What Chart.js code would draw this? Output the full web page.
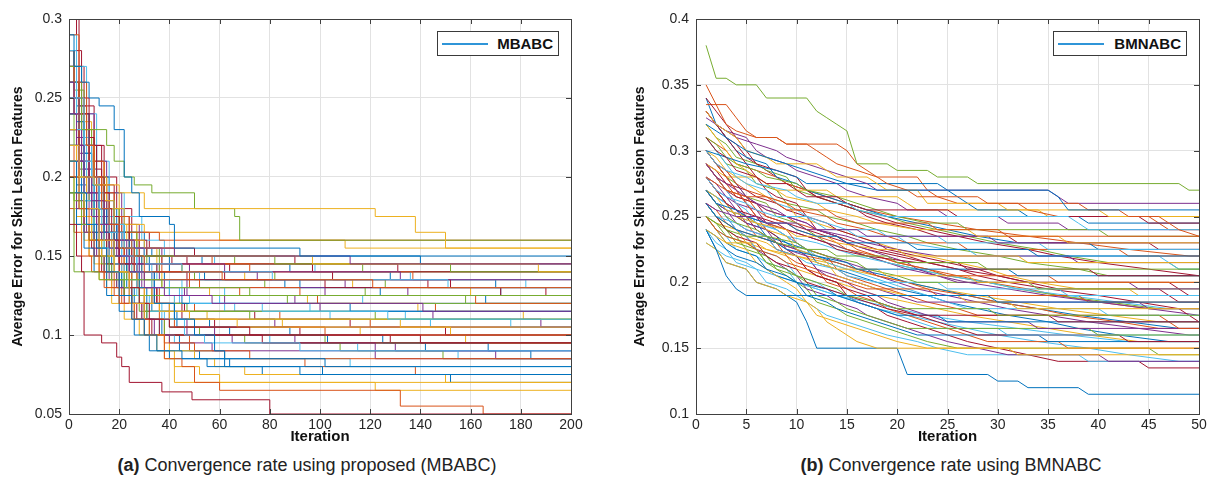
<!DOCTYPE html>
<html>
<head>
<meta charset="utf-8">
<script src="https://cdn.jsdelivr.net/npm/chart.js@4.4.0/dist/chart.umd.min.js"></script>
<style>
html,body{margin:0;padding:0;background:#fff;}
body{width:1212px;height:501px;position:relative;overflow:hidden;font-family:"Liberation Sans",Arial,sans-serif;}
.wrap{position:absolute;top:0;height:450px;}
#wa{left:0;width:606px;}
#wb{left:620px;width:592px;}
.legend{position:absolute;top:31px;height:25px;border:1px solid #3a3a3a;background:#fff;box-sizing:border-box;font-weight:bold;font-size:15px;color:#111;z-index:5;}
.legend .ln{position:absolute;left:4px;top:11px;width:46px;height:2px;background:#2f95d8;}
.legend .tx{position:absolute;right:5px;top:3px;}
.cap{position:absolute;top:455px;font-size:18px;color:#222;text-align:center;white-space:nowrap;}
</style>
</head>
<body>
<div class="wrap" id="wa"><canvas id="ca" width="606" height="450"></canvas></div>
<div class="wrap" id="wb"><canvas id="cb" width="592" height="450"></canvas></div>
<div class="legend" style="left:437px;width:122px;"><span class="ln"></span><span class="tx" id="lga"></span></div>
<div class="legend" style="left:1053px;width:134px;"><span class="ln"></span><span class="tx" id="lgb"></span></div>
<div class="cap" style="left:0;width:614px;"><b>(a)</b> Convergence rate using proposed (MBABC)</div>
<div class="cap" style="left:690px;width:522px;"><b>(b)</b> Convergence rate using BMNABC</div>
<script>
// MATLAB default line colours, cycled over the runs
const palette=['#0072BD','#D95319','#EDB120','#7E2F8E','#77AC30','#4DBEEE','#A2142F'];

// (a) MBABC: each run = [iteration, new value, ...] (value holds until next change)
const mbabcXTicks=[0,20,40,60,80,100,120,140,160,180,200];
const mbabcXLabels=['0','20','40','60','80','100','120','140','160','180','200'];
const mbabcYTicks=[0.05,0.1,0.15,0.2,0.25,0.3];
const mbabcYLabels=['0.05','0.1','0.15','0.2','0.25','0.3'];
const mbabcRuns=[
[0,.29,2,.27,5,.26,8,.25,12,.245,18,.23,22,.2,25,.19,28,.175,40,.17,42,.155,92,.15,200,.15],
[0,.29,4,.26,7,.22,10,.2,13,.18,16,.17,20,.155,26,.15,30,.14,61,.135,121,.13,200,.13],
[0,.22,4,.2,10,.195,20,.19,30,.18,122,.175,138,.165,150,.155,200,.155],
[0,.24,3,.22,6,.2,9,.185,14,.17,20,.16,26,.155,42,.15,112,.145,200,.145],
[0,.27,5,.23,15,.22,18,.21,22,.2,26,.195,33,.19,50,.18,66,.175,68,.16,200,.16],
[0,.25,3,.23,6,.21,9,.195,12,.18,16,.17,22,.155,30,.145,45,.14,81,.135,151,.13,200,.13],
[0,.17,3,.15,5,.14,6,.1,13,.095,19,.086,21,.08,24,.07,37,.064,49,.059,80,.05,200,.05],
[0,.21,3,.19,7,.17,11,.155,15,.14,20,.125,25,.11,30,.1,35,.09,45,.085,62,.08,101,.075,200,.075],
[0,.2,4,.18,8,.16,12,.14,18,.125,25,.11,30,.1,38,.085,45,.08,50,.07,60,.065,132,.055,165,.05,200,.05],
[0,.23,3,.2,7,.18,12,.16,18,.14,24,.12,30,.1,38,.085,42,.07,200,.07],
[0,.26,2,.24,5,.21,8,.19,11,.17,15,.16,19,.15,24,.14,30,.13,38,.125,57,.12,141,.115,200,.115],
[0,.19,2,.14,12,.135,37,.13,72,.125,200,.125],
[0,.28,3,.25,6,.22,9,.2,12,.18,16,.165,21,.15,27,.14,33,.13,40,.125,48,.12,77,.115,127,.11,200,.11],
[0,.25,4,.22,8,.2,12,.18,16,.16,20,.145,24,.13,28,.12,32,.11,40,.105,72,.1,200,.1],
[0,.24,3,.22,6,.2,10,.18,14,.165,18,.15,23,.14,28,.13,34,.12,42,.11,50,.1,58,.09,62,.085,102,.08,200,.08],
[0,.27,2,.25,5,.22,8,.2,11,.18,14,.17,18,.16,22,.15,26,.14,30,.135,52,.13,92,.125,162,.12,200,.12],
[0,.21,3,.19,6,.175,9,.16,13,.15,18,.14,24,.13,30,.12,36,.115,48,.11,67,.105,152,.1,200,.1],
[0,.23,3,.21,6,.19,9,.175,12,.165,16,.155,20,.15,26,.145,62,.14,132,.135,200,.135],
[0,.2,2,.185,5,.17,8,.16,12,.15,16,.14,22,.13,28,.125,87,.12,200,.12],
[0,.22,3,.2,6,.185,10,.17,14,.155,18,.145,22,.135,27,.125,32,.115,38,.11,46,.1,54,.095,92,.09,200,.09],
[0,.3,4,.28,5,.24,8,.22,11,.2,14,.18,17,.165,21,.155,25,.145,35,.14,47,.135,102,.13,172,.125,200,.125],
[0,.26,3,.235,6,.215,9,.195,12,.18,15,.17,19,.16,24,.15,29,.14,34,.13,40,.125,45,.12,112,.115,200,.115],
[0,.18,2,.165,5,.15,9,.14,14,.13,20,.12,26,.11,32,.1,38,.095,50,.09,72,.085,200,.085],
[0,.26,3,.24,6,.22,10,.2,14,.185,18,.17,23,.16,30,.155,42,.15,97,.145,187,.14,200,.14],
[0,.2,3,.18,6,.165,10,.15,14,.14,19,.13,24,.12,29,.11,34,.1,40,.095,57,.09,122,.085,200,.085],
[0,.24,2,.22,5,.2,8,.185,12,.17,16,.16,20,.155,26,.15,82,.145,152,.14,200,.14],
[0,.25,4,.23,7,.2,10,.185,13,.17,17,.16,21,.15,25,.14,30,.135,40,.13,62,.125,117,.12,200,.12],
[0,.22,3,.2,7,.18,11,.16,15,.145,20,.13,25,.12,30,.11,36,.1,77,.095,200,.095],
[0,.19,3,.17,6,.155,10,.14,15,.125,20,.115,26,.1,32,.09,40,.085,55,.08,92,.075,200,.075],
[0,.28,2,.26,4,.24,7,.22,10,.2,13,.185,16,.17,20,.16,25,.15,57,.145,200,.145],
[0,.24,3,.22,6,.2,9,.18,13,.165,17,.15,22,.14,27,.13,33,.12,40,.11,132,.105,200,.105],
[0,.27,3,.24,6,.22,9,.2,12,.185,15,.17,19,.16,23,.15,28,.14,33,.135,38,.13,102,.125,200,.125],
[0,.21,3,.19,6,.175,9,.16,13,.145,17,.135,22,.125,28,.115,72,.11,200,.11],
[0,.23,3,.21,6,.19,9,.17,12,.155,16,.14,20,.13,25,.12,30,.11,36,.1,42,.095,50,.09,62,.085,112,.08,200,.08],
[0,.26,2,.24,5,.22,8,.2,11,.18,14,.165,18,.155,22,.145,27,.14,62,.135,152,.13,200,.13],
[0,.28,2,.26,5,.24,8,.22,11,.2,14,.185,18,.17,22,.16,26,.15,32,.14,38,.135,92,.13,172,.125,200,.125],
[0,.23,3,.21,6,.19,9,.175,12,.16,16,.15,20,.14,25,.13,30,.12,36,.11,42,.105,102,.1,200,.1],
[0,.2,2,.18,5,.165,8,.15,12,.135,17,.12,22,.11,28,.1,35,.09,42,.08,52,.075,60,.07,122,.065,200,.065],
[0,.25,3,.225,6,.205,9,.19,12,.175,16,.16,20,.15,24,.14,29,.13,34,.12,40,.115,48,.11,82,.105,200,.105],
[0,.22,3,.2,6,.185,10,.17,14,.155,18,.145,23,.135,28,.125,34,.12,47,.115,122,.11,200,.11],
[0,.27,2,.25,5,.225,8,.205,11,.19,14,.175,18,.165,22,.155,27,.145,33,.14,52,.135,200,.135],
[0,.21,3,.19,6,.17,9,.155,13,.14,17,.13,22,.12,27,.11,33,.1,140,.095,200,.095],
[0,.24,3,.22,6,.2,9,.18,12,.165,16,.155,24,.15,140,.145,200,.145],
[0,.25,3,.23,6,.21,9,.19,12,.175,15,.165,19,.155,24,.15,30,.145,72,.14,137,.135,200,.135],
[0,.19,3,.175,6,.16,10,.145,15,.13,20,.12,26,.11,32,.1,40,.09,50,.085,58,.08,70,.075,150,.07,200,.07],
[0,.23,3,.21,6,.19,9,.175,13,.16,17,.15,22,.14,27,.13,33,.12,40,.11,47,.1,65,.095,122,.09,200,.09],
[0,.2,3,.18,6,.165,10,.15,14,.14,19,.13,25,.12,31,.11,38,.1,102,.095,200,.095],
[0,.26,3,.24,6,.215,9,.195,12,.18,15,.165,19,.155,23,.145,28,.135,34,.125,42,.12,62,.115,200,.115],
[0,.28,2,.26,4,.245,7,.225,10,.205,13,.19,16,.175,20,.165,24,.155,30,.15,47,.145,97,.14,200,.14],
[0,.22,3,.2,6,.18,9,.165,13,.15,17,.14,21,.13,26,.12,31,.11,37,.1,44,.09,52,.085,64,.08,77,.075,152,.07,200,.07],
[0,.27,3,.25,6,.23,10,.21,14,.19,18,.175,24,.165,36,.16,200,.16],
[0,.25,4,.22,9,.2,15,.18,22,.17,30,.165,60,.16,110,.155,200,.155],
[0,.23,4,.205,8,.18,12,.165,18,.15,26,.14,34,.13,46,.125,90,.12,200,.12],
[0,.26,4,.23,9,.2,14,.18,20,.165,27,.15,36,.14,50,.135,78,.13,118,.125,158,.12,200,.12],
[0,.24,3,.22,8,.19,13,.17,19,.155,27,.145,35,.135,45,.125,60,.12,96,.115,134,.11,176,.105,200,.105],
[0,.28,4,.25,8,.22,13,.195,18,.175,24,.16,31,.15,41,.145,64,.14,105,.135,143,.13,190,.125,200,.125],
[0,.21,5,.18,10,.16,16,.145,23,.13,31,.12,42,.11,56,.105,88,.1,125,.095,167,.09,200,.09],
[0,.25,4,.22,9,.195,15,.175,21,.16,28,.15,37,.14,48,.13,68,.125,99,.12,146,.115,200,.115],
[0,.23,3,.21,7,.19,12,.17,18,.15,25,.135,33,.125,42,.115,55,.11,85,.105,116,.1,158,.095,200,.095],
[0,.27,5,.24,10,.21,15,.19,21,.17,28,.155,37,.145,48,.14,75,.135,110,.13,135,.125,200,.125],
[0,.2,4,.18,9,.16,15,.14,22,.125,30,.115,40,.105,52,.1,70,.095,108,.09,149,.085,200,.085],
[0,.29,3,.27,7,.24,11,.21,16,.19,22,.175,29,.16,38,.15,58,.145,98,.14,136,.135,182,.13,200,.13],
[0,.22,4,.2,9,.18,14,.16,20,.145,27,.13,35,.12,45,.11,58,.105,92,.1,128,.095,200,.095],
[0,.25,5,.22,10,.2,16,.18,22,.165,30,.15,40,.14,54,.135,86,.13,124,.125,166,.12,200,.12],
[0,.19,3,.17,8,.15,14,.135,21,.12,29,.11,38,.1,48,.09,62,.085,94,.08,138,.075,200,.075],
[0,.26,4,.235,9,.21,14,.19,20,.17,27,.155,35,.145,45,.14,70,.135,113,.13,160,.125,200,.125],
[0,.24,4,.215,9,.195,15,.175,21,.16,28,.145,36,.135,47,.125,62,.12,100,.115,145,.11,188,.105,200,.105],
[0,.28,2,.255,6,.225,10,.2,15,.18,20,.165,27,.155,36,.15,66,.145,117,.14,200,.14],
[0,.21,3,.19,6,.175,10,.16,15,.145,21,.13,28,.12,37,.11,50,.1,80,.095,115,.09,155,.085,200,.085],
[0,.23,4,.2,9,.18,14,.16,20,.145,27,.13,35,.12,46,.115,74,.11,112,.105,150,.1,200,.1],
[0,.27,3,.245,6,.22,10,.2,14,.18,19,.165,25,.155,33,.15,53,.145,88,.14,128,.135,170,.13,200,.13],
[0,.22,2,.2,6,.18,10,.165,15,.15,21,.14,28,.13,36,.12,50,.115,84,.11,120,.105,200,.105],
[0,.25,3,.225,7,.2,11,.18,16,.165,22,.15,29,.14,37,.13,56,.125,95,.12,139,.115,181,.11,200,.11],
[0,.2,3,.185,7,.165,11,.15,16,.135,22,.125,30,.115,40,.105,58,.1,90,.095,130,.09,170,.085,200,.085],
[0,.26,2,.24,5,.215,9,.195,13,.18,18,.165,24,.155,31,.145,45,.14,82,.135,126,.13,200,.13],
[0,.24,4,.21,8,.19,13,.17,19,.155,26,.14,34,.13,44,.12,66,.115,104,.11,144,.105,200,.105],
[0,.3,3,.27,6,.245,10,.22,14,.2,19,.18,25,.165,32,.155,50,.15,90,.145,131,.14,200,.14],
[0,.22,3,.195,7,.175,12,.155,18,.14,25,.125,33,.115,43,.105,64,.1,103,.095,142,.09,184,.085,200,.085]
];

// (b) BMNABC: each run = polyline vertices [iteration, value, ...]
const bmnabcXTicks=[0,5,10,15,20,25,30,35,40,45,50];
const bmnabcXLabels=['0','5','10','15','20','25','30','35','40','45','50'];
const bmnabcYTicks=[0.1,0.15,0.2,0.25,0.3,0.35,0.4];
const bmnabcYLabels=['0.1','0.15','0.2','0.25','0.3','0.35','0.4'];
const bmnabcRuns=[
[1,.32,2,.315,3,.31,5,.3,7,.295,9,.29,11,.285,13,.28,15,.275,18,.27,35,.27,36,.265,37,.255,50,.255],
[1,.35,2,.335,3,.32,4,.315,6,.31,8,.31,9,.305,11,.305,12,.3,13,.295,14,.29,16,.285,18,.28,19,.275,21,.27,22,.265,28,.265,29,.26,38,.26,39,.255,42,.255,43,.25,46,.25,47,.245,48,.24,50,.235],
[1,.33,2,.32,4,.31,5,.3,7,.295,8,.29,12,.29,13,.285,14,.28,17,.28,18,.275,19,.27,22,.27,23,.26,30,.26,31,.255,40,.255,41,.25,50,.25],
[1,.325,2,.32,4,.31,6,.305,8,.3,9,.295,11,.29,13,.285,15,.28,17,.275,18,.27,35,.27,36,.265,37,.26,50,.26],
[1,.38,2,.355,3,.355,4,.35,6,.35,7,.34,11,.34,12,.33,13,.325,14,.32,15,.315,16,.29,19,.29,20,.285,23,.285,24,.28,27,.28,28,.275,48,.275,49,.27,50,.27],
[1,.3,2,.29,3,.285,5,.28,6,.275,9,.27,10,.265,12,.26,15,.26,16,.255,19,.25,37,.25,38,.245,39,.24,50,.24],
[1,.31,2,.3,3,.295,4,.285,6,.28,7,.275,9,.275,10,.27,11,.265,14,.265,15,.26,17,.255,25,.255,26,.25,44,.25,45,.245,50,.245],
[1,.3,3,.295,5,.29,8,.285,10,.28,11,.275,24,.275,25,.27,26,.265,27,.26,28,.255,32,.255,33,.25,38,.25,39,.245,50,.245],
[1,.28,2,.275,3,.27,5,.265,7,.265,8,.26,9,.255,13,.255,14,.25,16,.245,23,.245,24,.24,30,.24,31,.235,50,.235],
[1,.32,2,.31,3,.3,4,.29,5,.285,6,.28,8,.27,9,.265,12,.26,13,.255,16,.25,18,.245,22,.24,27,.24,28,.235,36,.235,37,.23,50,.23],
[1,.26,2,.255,4,.25,6,.25,7,.245,10,.245,11,.24,16,.24,17,.235,29,.235,30,.23,50,.23],
[1,.31,2,.305,3,.295,4,.29,6,.285,7,.28,10,.275,11,.27,14,.265,16,.26,18,.255,20,.25,23,.245,26,.245,27,.24,40,.24,41,.235,50,.235],
[1,.28,2,.27,3,.265,5,.26,6,.255,8,.25,11,.25,12,.245,13,.24,18,.24,19,.235,24,.235,25,.23,34,.23,35,.225,50,.225],
[1,.34,2,.33,3,.32,4,.31,5,.3,6,.29,8,.285,10,.28,11,.27,12,.265,14,.26,16,.255,17,.25,19,.245,22,.24,24,.235,31,.235,32,.23,45,.23,46,.225,50,.225],
[1,.27,2,.26,4,.255,5,.25,7,.245,9,.245,10,.24,12,.235,14,.235,15,.23,21,.23,22,.225,33,.225,34,.22,50,.22],
[1,.3,2,.29,3,.285,4,.275,5,.27,7,.265,9,.26,10,.255,13,.25,14,.245,17,.24,19,.235,21,.23,26,.23,27,.225,42,.225,43,.22,50,.22],
[1,.27,2,.265,3,.255,5,.25,6,.245,9,.24,10,.235,13,.235,14,.23,18,.225,20,.225,21,.22,32,.22,33,.215,50,.215],
[1,.29,2,.28,3,.275,4,.27,6,.26,7,.255,9,.25,11,.245,12,.24,15,.235,17,.23,20,.225,24,.22,37,.22,38,.215,50,.215],
[1,.25,2,.245,3,.24,5,.235,7,.235,8,.23,11,.225,13,.225,14,.22,19,.22,20,.215,28,.215,29,.21,50,.21],
[1,.31,2,.3,3,.29,4,.28,5,.275,7,.27,8,.26,10,.255,11,.25,13,.245,15,.24,16,.235,20,.235,21,.23,25,.225,27,.225,28,.22,46,.22,47,.215,48,.21,50,.21],
[1,.28,2,.27,3,.26,4,.255,6,.25,8,.245,9,.24,11,.235,13,.23,14,.225,17,.22,22,.215,26,.215,27,.21,39,.21,40,.205,50,.205],
[1,.26,2,.25,3,.245,4,.24,6,.235,8,.23,9,.225,12,.22,15,.215,16,.21,31,.21,32,.205,50,.205],
[1,.29,2,.28,3,.27,5,.265,6,.255,7,.25,9,.245,10,.24,12,.235,14,.23,15,.225,18,.22,20,.215,23,.21,25,.205,35,.205,36,.2,50,.2],
[1,.24,2,.235,3,.23,6,.23,7,.225,10,.22,12,.215,14,.21,18,.21,19,.205,27,.205,28,.2,50,.2],
[1,.3,2,.29,3,.285,4,.275,5,.265,6,.26,8,.255,9,.25,11,.245,12,.24,14,.235,15,.23,17,.225,19,.22,21,.215,22,.21,24,.205,26,.2,43,.2,44,.195,50,.195],
[1,.27,2,.26,3,.25,4,.245,6,.24,7,.235,10,.23,11,.225,13,.22,16,.215,17,.21,20,.205,22,.2,33,.2,34,.195,50,.195],
[1,.26,2,.25,4,.245,5,.24,7,.235,8,.225,10,.22,11,.215,14,.21,15,.205,18,.2,24,.2,25,.195,36,.195,37,.19,50,.19],
[1,.33,2,.32,3,.31,4,.3,5,.29,6,.28,7,.27,8,.265,10,.26,11,.25,13,.245,14,.24,16,.235,18,.23,19,.225,22,.22,25,.215,28,.21,30,.205,33,.2,47,.2,48,.195,49,.19,50,.19],
[1,.24,2,.225,3,.205,4,.195,5,.19,29,.19,30,.185,50,.185],
[1,.25,2,.24,3,.235,5,.23,6,.225,8,.22,9,.215,11,.21,13,.205,15,.2,17,.195,23,.195,24,.19,38,.19,39,.185,50,.185],
[1,.28,2,.27,3,.26,4,.25,6,.245,7,.24,9,.235,10,.225,12,.22,13,.215,14,.205,16,.2,18,.195,21,.19,26,.19,27,.185,31,.185,32,.18,50,.18],
[1,.27,2,.26,3,.255,4,.245,5,.24,7,.235,8,.23,10,.225,11,.22,12,.21,14,.205,16,.2,18,.195,20,.19,22,.185,44,.185,45,.18,50,.18],
[1,.25,2,.245,3,.235,5,.23,6,.225,7,.215,9,.21,10,.205,12,.2,14,.195,15,.19,18,.185,20,.18,29,.18,30,.175,50,.175],
[1,.29,2,.28,3,.27,4,.26,5,.255,6,.245,8,.24,9,.235,11,.225,12,.22,13,.215,15,.21,17,.205,19,.2,21,.195,23,.19,25,.185,27,.18,40,.18,41,.175,50,.175],
[1,.26,2,.25,3,.24,4,.235,6,.23,7,.22,8,.215,10,.21,11,.2,13,.195,15,.19,17,.185,19,.18,22,.175,35,.175,36,.17,50,.17],
[1,.24,2,.235,3,.225,4,.22,6,.215,7,.21,9,.205,10,.2,13,.195,14,.19,16,.185,18,.18,20,.175,24,.175,25,.17,50,.17],
[1,.3,2,.29,3,.28,4,.27,5,.26,6,.25,7,.245,9,.24,10,.23,11,.225,13,.22,14,.21,15,.205,17,.2,19,.195,21,.19,23,.185,26,.18,28,.175,46,.175,47,.17,48,.165,50,.165],
[1,.25,2,.24,3,.23,5,.225,6,.215,7,.21,9,.2,10,.195,11,.185,12,.18,13,.17,14,.165,15,.16,16,.155,18,.15,50,.15],
[1,.28,2,.27,3,.26,4,.255,5,.245,7,.24,8,.23,9,.225,11,.22,12,.21,13,.205,15,.2,16,.195,18,.19,19,.185,21,.18,23,.175,25,.17,33,.17,34,.165,50,.165],
[1,.26,2,.25,3,.24,4,.235,5,.225,7,.22,8,.21,10,.205,11,.2,12,.19,14,.185,15,.18,17,.175,19,.17,21,.165,39,.165,40,.16,50,.16],
[1,.27,2,.26,3,.25,4,.24,5,.235,6,.225,8,.22,9,.215,10,.205,12,.2,13,.195,15,.19,16,.185,18,.18,20,.175,22,.17,24,.165,30,.165,31,.16,50,.16],
[1,.29,2,.28,3,.27,4,.26,5,.25,6,.24,7,.235,8,.225,10,.22,11,.21,12,.205,14,.2,15,.195,17,.19,18,.185,20,.18,22,.175,24,.17,26,.165,28,.16,42,.16,43,.155,50,.155],
[1,.25,2,.24,3,.23,4,.225,6,.22,7,.21,8,.205,10,.2,11,.19,13,.185,14,.18,16,.175,18,.17,20,.165,22,.16,34,.16,35,.155,50,.155],
[1,.28,2,.27,3,.26,4,.25,5,.245,6,.235,8,.23,9,.22,10,.215,12,.21,13,.2,15,.195,16,.19,18,.185,19,.18,21,.175,23,.17,25,.165,27,.16,29,.155,36,.155,37,.15,50,.15],
[1,.23,2,.225,3,.215,5,.21,6,.2,8,.195,9,.19,11,.185,12,.175,14,.17,16,.165,18,.16,20,.155,23,.15,31,.15,32,.145,50,.145],
[1,.27,2,.26,3,.25,4,.24,5,.235,6,.225,7,.22,9,.21,10,.205,11,.195,13,.19,14,.185,16,.18,17,.175,19,.17,21,.165,23,.16,25,.155,28,.15,31,.145,40,.145,41,.14,50,.14],
[1,.26,2,.25,3,.24,4,.23,6,.225,7,.215,8,.21,10,.2,11,.195,12,.185,14,.18,15,.175,17,.17,19,.165,21,.16,23,.155,26,.15,45,.15,46,.145,50,.145],
[1,.24,2,.23,3,.225,4,.215,6,.21,7,.2,9,.195,10,.19,12,.18,13,.175,15,.17,17,.165,19,.16,22,.155,24,.15,27,.145,38,.145,39,.14,50,.14],
[1,.3,2,.29,3,.28,4,.27,5,.26,6,.25,7,.24,8,.235,9,.225,10,.22,11,.21,12,.205,14,.2,15,.19,16,.185,18,.18,19,.175,21,.17,23,.165,25,.16,27,.155,30,.15,33,.145,36,.14,44,.14,45,.135,50,.135],
[1,.24,2,.225,3,.215,5,.21,6,.2,8,.195,10,.185,11,.17,12,.15,20,.15,21,.13,29,.13,30,.125,32,.125,33,.12,38,.12,39,.115,50,.115],
[1,.335,3,.335,4,.325,5,.315,6,.31,8,.31,9,.305,14,.305,15,.3,16,.29,17,.285,18,.28,22,.28,23,.27,24,.265,26,.26,32,.26,33,.255,36,.25,45,.25,46,.245,47,.24,50,.24],
[1,.29,2,.285,3,.28,6,.28,7,.275,8,.27,13,.27,14,.265,20,.265,21,.26,22,.255,34,.255,35,.25,50,.25],
[1,.33,2,.32,3,.315,5,.31,6,.3,7,.295,9,.29,10,.285,12,.28,14,.275,15,.27,17,.265,20,.26,21,.255,24,.255,25,.25,30,.25,31,.245,36,.245,37,.24,50,.24],
[1,.31,2,.3,3,.29,5,.285,6,.275,8,.27,9,.26,12,.255,13,.25,16,.245,18,.24,21,.235,23,.23,26,.225,30,.22,33,.215,38,.21,41,.205,50,.205],
[1,.27,2,.265,3,.26,4,.25,6,.245,8,.24,9,.235,12,.23,14,.225,16,.22,19,.215,22,.21,25,.205,29,.2,32,.195,37,.19,42,.185,47,.18,50,.18],
[1,.29,2,.28,3,.27,4,.265,6,.26,7,.25,9,.245,11,.24,13,.235,15,.23,17,.225,20,.22,23,.215,26,.21,28,.205,31,.2,35,.195,40,.19,44,.185,48,.18,49,.175,50,.17],
[1,.34,2,.32,3,.31,4,.3,5,.295,7,.29,8,.28,10,.275,11,.27,13,.265,15,.26,17,.255,19,.25,22,.245,25,.24,28,.235,32,.23,39,.23,40,.225,50,.225],
[1,.26,2,.255,3,.245,4,.24,6,.235,8,.23,10,.225,11,.22,14,.215,16,.21,18,.205,21,.2,23,.195,27,.19,30,.185,34,.18,37,.175,42,.17,46,.165,50,.165],
[1,.3,2,.295,3,.285,4,.28,6,.27,7,.265,9,.26,10,.25,12,.245,14,.24,16,.235,18,.23,20,.225,23,.22,26,.215,29,.21,31,.205,34,.2,38,.195,43,.195,44,.19,50,.19],
[1,.28,2,.27,3,.265,4,.255,5,.25,7,.245,8,.24,10,.23,11,.225,13,.22,15,.215,17,.21,18,.205,20,.2,22,.195,25,.19,28,.185,31,.18,35,.175,39,.17,44,.165,49,.16,50,.16],
[1,.32,2,.31,3,.305,4,.295,6,.29,7,.285,9,.28,10,.27,12,.265,14,.26,16,.255,19,.25,21,.245,24,.24,27,.235,30,.23,34,.225,37,.22,41,.215,47,.215,48,.21,50,.21],
[1,.25,2,.24,3,.235,4,.225,6,.22,7,.215,9,.21,10,.2,12,.195,14,.19,16,.185,18,.18,21,.175,24,.17,27,.165,30,.16,34,.155,39,.15,43,.145,48,.14,50,.14],
[1,.29,2,.285,3,.275,5,.27,6,.265,8,.26,9,.255,11,.25,12,.24,14,.235,16,.23,18,.225,21,.22,23,.215,26,.21,30,.205,33,.2,36,.195,46,.195,47,.19,48,.185,50,.185],
[1,.27,2,.26,3,.255,5,.25,6,.245,7,.235,9,.23,11,.225,12,.215,14,.21,16,.205,18,.2,20,.195,23,.19,25,.185,28,.18,31,.175,35,.17,38,.165,42,.16,47,.155,50,.155],
[1,.31,2,.305,3,.3,4,.29,6,.285,8,.28,9,.275,11,.27,13,.265,15,.26,17,.255,20,.25,24,.245,28,.24,33,.235,38,.23,43,.225,49,.22,50,.22],
[1,.26,2,.25,3,.245,4,.24,5,.23,7,.225,9,.22,10,.21,12,.205,14,.2,16,.195,18,.19,21,.185,24,.18,27,.175,31,.17,35,.165,39,.16,44,.155,50,.155],
[1,.28,2,.275,3,.265,4,.26,6,.255,7,.245,9,.24,11,.235,13,.23,15,.225,17,.22,19,.215,21,.21,24,.205,27,.2,31,.195,35,.19,40,.185,45,.18,50,.175],
[1,.3,2,.29,3,.28,4,.275,5,.265,7,.26,8,.25,10,.245,11,.24,13,.23,15,.225,17,.22,19,.215,22,.21,25,.205,29,.2,32,.195,36,.19,41,.185,46,.18,50,.18],
[1,.23,2,.225,3,.22,5,.215,6,.21,8,.205,10,.2,12,.195,14,.19,17,.185,20,.18,23,.175,27,.17,32,.165,37,.16,43,.155,50,.155],
[1,.33,2,.32,3,.31,4,.305,5,.295,6,.29,8,.28,9,.275,11,.27,12,.265,14,.26,16,.255,18,.25,20,.245,23,.24,26,.235,29,.23,33,.225,36,.22,40,.215,45,.21,50,.205],
[1,.27,2,.265,3,.26,4,.25,5,.245,7,.24,8,.235,10,.225,12,.22,14,.215,16,.21,19,.205,21,.2,24,.195,27,.19,30,.185,34,.18,38,.175,43,.17,48,.165,50,.165],
[1,.29,2,.28,3,.275,4,.265,6,.26,7,.255,9,.25,10,.245,12,.24,14,.235,16,.225,18,.22,20,.215,23,.21,26,.205,29,.2,33,.195,36,.19,40,.185,45,.18,50,.18],
[1,.25,2,.245,4,.24,5,.235,7,.23,8,.225,10,.22,13,.215,15,.21,18,.205,21,.2,24,.195,28,.19,32,.185,36,.18,41,.175,46,.17,50,.17]
];

const legendA='MBABC';
const legendB='BMNABC';
const yTitle='Average Error for Skin Lesion Features';
const xTitle='Iteration';

document.getElementById('lga').textContent=legendA;
document.getElementById('lgb').textContent=legendB;

function toPoints(flat){
  const pts=[];
  for(let i=0;i<flat.length;i+=2) pts.push({x:flat[i],y:flat[i+1]});
  return pts;
}

// axis box + inward ticks like MATLAB
const boxPlugin={
  id:'box',
  afterDatasetsDraw(chart){
    const {ctx,chartArea:a,scales:{x,y}}=chart;
    ctx.save();
    ctx.strokeStyle='#404040';
    ctx.lineWidth=1;
    ctx.beginPath();
    x.ticks.forEach(t=>{
      const px=Math.round(x.getPixelForValue(t.value))+0.5;
      ctx.moveTo(px,a.bottom);ctx.lineTo(px,a.bottom-5);
      ctx.moveTo(px,a.top);ctx.lineTo(px,a.top+5);
    });
    y.ticks.forEach(t=>{
      const py=Math.round(y.getPixelForValue(t.value))+0.5;
      ctx.moveTo(a.left,py);ctx.lineTo(a.left+5,py);
      ctx.moveTo(a.right,py);ctx.lineTo(a.right-5,py);
    });
    ctx.stroke();
    ctx.strokeRect(Math.round(a.left)+0.5,Math.round(a.top)+0.5,Math.round(a.width),Math.round(a.height));
    ctx.restore();
  }
};

function makeChart(id,runs,stepped,cfg){
  const datasets=runs.map((r,i)=>({
    data:toPoints(r),
    borderColor:palette[i%palette.length],
    borderWidth:1,
    pointRadius:0,
    fill:false,
    tension:0,
    stepped:stepped?'before':false
  }));
  return new Chart(document.getElementById(id),{
    type:'line',
    data:{datasets},
    plugins:[boxPlugin],
    options:{
      animation:false,
      responsive:false,
      events:[],
      layout:{padding:{left:0,top:19,right:cfg.padRight,bottom:4}},
      plugins:{legend:{display:false},tooltip:{enabled:false}},
      scales:{
        x:{
          type:'linear',min:cfg.xMin,max:cfg.xMax,
          afterBuildTicks:s=>{s.ticks=cfg.xTicks.map(v=>({value:v}));},
          afterFit:s=>{s.height=32;},
          grid:{color:'#e2e2e2',drawTicks:false},
          border:{display:false},
          ticks:{padding:3,color:'#262626',autoSkip:false,maxRotation:0,
            font:{size:14,family:'"Liberation Sans", Arial, sans-serif'},
            callback:(v,i)=>cfg.xLabels[i]},
          title:{display:true,text:xTitle,color:'#111',padding:0,
            font:{size:15,weight:'bold',family:'"Liberation Sans", Arial, sans-serif'}}
        },
        y:{
          type:'linear',min:cfg.yMin,max:cfg.yMax,
          afterBuildTicks:s=>{s.ticks=cfg.yTicks.map(v=>({value:v}));},
          afterFit:s=>{s.width=cfg.yWidth;},
          grid:{color:'#e2e2e2',drawTicks:false},
          border:{display:false},
          ticks:{padding:7,color:'#262626',
            font:{size:14,family:'"Liberation Sans", Arial, sans-serif'},
            callback:(v,i)=>cfg.yLabels[i]},
          title:{display:true,text:yTitle,color:'#111',padding:{top:cfg.yTitlePad,bottom:0},
            font:{size:14,weight:'bold',family:'"Liberation Sans", Arial, sans-serif'}}
        }
      }
    }
  });
}

makeChart('ca',mbabcRuns,true,{
  xMin:0,xMax:200,xTicks:mbabcXTicks,xLabels:mbabcXLabels,
  yMin:0.05,yMax:0.3,yTicks:mbabcYTicks,yLabels:mbabcYLabels,
  yWidth:69,padRight:35,yTitlePad:10
});
makeChart('cb',bmnabcRuns,false,{
  xMin:0,xMax:50,xTicks:bmnabcXTicks,xLabels:bmnabcXLabels,
  yMin:0.1,yMax:0.4,yTicks:bmnabcYTicks,yLabels:bmnabcYLabels,
  yWidth:76,padRight:13,yTitlePad:12
});
</script>
</body>
</html>
